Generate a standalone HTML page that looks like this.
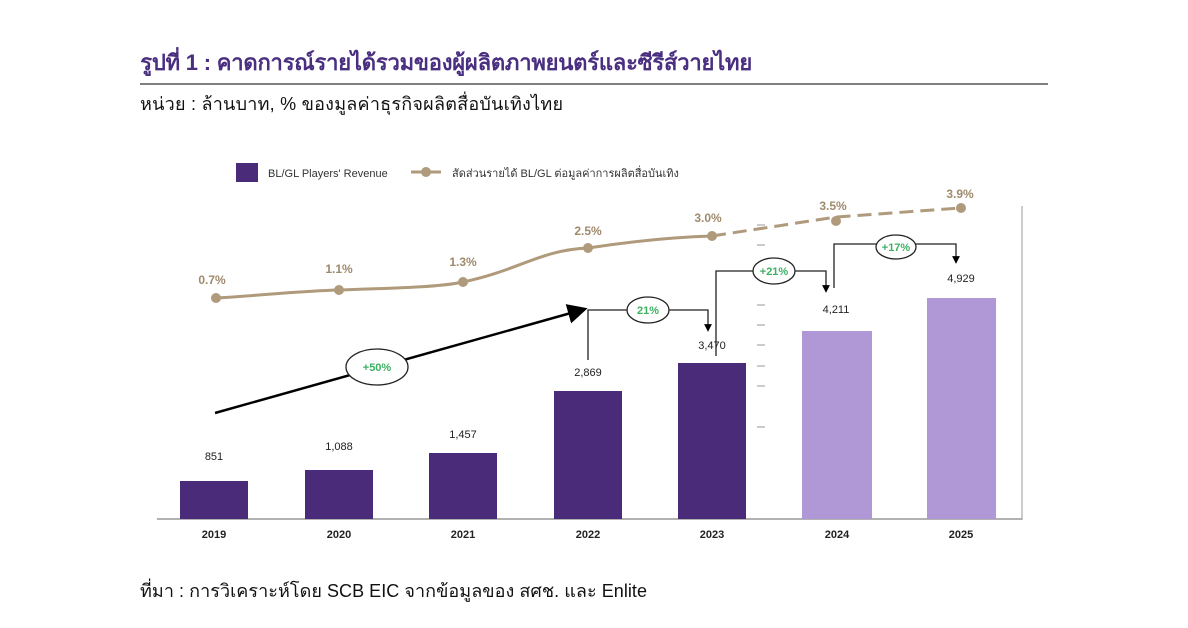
<!DOCTYPE html>
<html><head><meta charset="utf-8"><style>
body{margin:0;background:#fff;width:1188px;height:623px;overflow:hidden;font-family:"Liberation Sans","Noto Sans CJK SC",sans-serif}
</style></head><body>
<svg width="1188" height="623" xmlns="http://www.w3.org/2000/svg" font-family="Liberation Sans, Noto Sans CJK SC, sans-serif">
<defs><marker id="ar" markerWidth="8" markerHeight="8" refX="4" refY="4" orient="auto"><path d="M0,0 L8,4 L0,8z" fill="#000"/></marker>
<marker id="ar2" markerWidth="6" markerHeight="6" refX="3" refY="3" orient="auto"><path d="M0,0 L6,3 L0,6z" fill="#000"/></marker></defs>
<text x="140" y="70" font-size="22" font-weight="bold" fill="#4a2f80" textLength="612">รูปที่ 1 : คาดการณ์รายได้รวมของผู้ผลิตภาพยนตร์และซีรีส์วายไทย</text>
<line x1="140" y1="84" x2="1048" y2="84" stroke="#333" stroke-width="1.2"/>
<text x="140" y="110" font-size="18" fill="#111" textLength="423">หน่วย : ล้านบาท, % ของมูลค่าธุรกิจผลิตสื่อบันเทิงไทย</text>
<rect x="236" y="163" width="22" height="19" fill="#4a2b7a"/>
<text x="268" y="177" font-size="11" fill="#333">BL/GL Players' Revenue</text>
<line x1="411" y1="172" x2="441" y2="172" stroke="#b09a7c" stroke-width="3"/><circle cx="426" cy="172" r="5" fill="#b09a7c"/>
<text x="452" y="177" font-size="11" fill="#333">สัดส่วนรายได้ BL/GL ต่อมูลค่าการผลิตสื่อบันเทิง</text>
<line x1="1022" y1="206" x2="1022" y2="520" stroke="#ccc" stroke-width="2"/>
<line x1="157" y1="519" x2="1022" y2="519" stroke="#999" stroke-width="1.5"/>
<g stroke="#bbb" stroke-width="1.5"><line x1="757" y1="225" x2="765" y2="225"/><line x1="757" y1="245" x2="765" y2="245"/><line x1="757" y1="305" x2="765" y2="305"/><line x1="757" y1="325" x2="765" y2="325"/><line x1="757" y1="345" x2="765" y2="345"/><line x1="757" y1="366" x2="765" y2="366"/><line x1="757" y1="386" x2="765" y2="386"/><line x1="757" y1="427" x2="765" y2="427"/></g>
<g fill="#4a2b7a"><rect x="180" y="481" width="68" height="38"/><rect x="305" y="470" width="68" height="49"/><rect x="429" y="453" width="68" height="66"/><rect x="554" y="391" width="68" height="128"/><rect x="678" y="363" width="68" height="156"/></g>
<g fill="#b098d6"><rect x="802" y="331" width="70" height="188"/><rect x="927" y="298" width="69" height="221"/></g>
<g font-size="11" fill="#222" text-anchor="middle"><text x="214" y="460">851</text><text x="339" y="450">1,088</text><text x="463" y="438">1,457</text><text x="588" y="376">2,869</text><text x="712" y="349">3,470</text><text x="836" y="313">4,211</text><text x="961" y="282">4,929</text></g>
<g font-size="11" fill="#222" font-weight="bold" text-anchor="middle"><text x="214" y="538">2019</text><text x="339" y="538">2020</text><text x="463" y="538">2021</text><text x="588" y="538">2022</text><text x="712" y="538">2023</text><text x="837" y="538">2024</text><text x="961" y="538">2025</text></g>
<path d="M216,298 C280,294 300,291 339,290 C400,288 440,287 463,282 C520,270 540,250 588,248 C640,240 680,237 712,236" fill="none" stroke="#b09a7c" stroke-width="3"/>
<path d="M712,236 L836,217 L961,208" fill="none" stroke="#b09a7c" stroke-width="3" stroke-dasharray="14,7"/>
<g fill="#b09a7c"><circle cx="216" cy="298" r="5"/><circle cx="339" cy="290" r="5"/><circle cx="463" cy="282" r="5"/><circle cx="588" cy="248" r="5"/><circle cx="712" cy="236" r="5"/><circle cx="836" cy="221" r="5"/><circle cx="961" cy="208" r="5"/></g>
<g font-size="12" font-weight="bold" fill="#a08a6c" text-anchor="middle"><text x="212" y="284">0.7%</text><text x="339" y="273">1.1%</text><text x="463" y="266">1.3%</text><text x="588" y="235">2.5%</text><text x="708" y="222">3.0%</text><text x="833" y="210">3.5%</text><text x="960" y="198">3.9%</text></g>
<line x1="215" y1="413" x2="578" y2="311" stroke="#000" stroke-width="2.5" marker-end="url(#ar)"/>
<g fill="none" stroke="#222" stroke-width="1.3">
<path d="M588,360 V310 H708 V328" marker-end="url(#ar2)"/>
<path d="M716,356 V271 H826 V289" marker-end="url(#ar2)"/>
<path d="M834,288 V244 H956 V260" marker-end="url(#ar2)"/>
</g>
<g fill="#fff" stroke="#222" stroke-width="1.3"><ellipse cx="377" cy="367" rx="31" ry="18"/><ellipse cx="648" cy="310" rx="21" ry="13"/><ellipse cx="774" cy="271" rx="21" ry="13"/><ellipse cx="896" cy="247" rx="20" ry="12"/></g>
<g font-size="11" font-weight="bold" fill="#3cb064" text-anchor="middle"><text x="377" y="371">+50%</text><text x="648" y="314">21%</text><text x="774" y="275">+21%</text><text x="896" y="251">+17%</text></g>
<text x="140" y="597" font-size="18" fill="#111" textLength="507">ที่มา : การวิเคราะห์โดย SCB EIC จากข้อมูลของ สศช. และ Enlite</text>
</svg>
</body></html>
